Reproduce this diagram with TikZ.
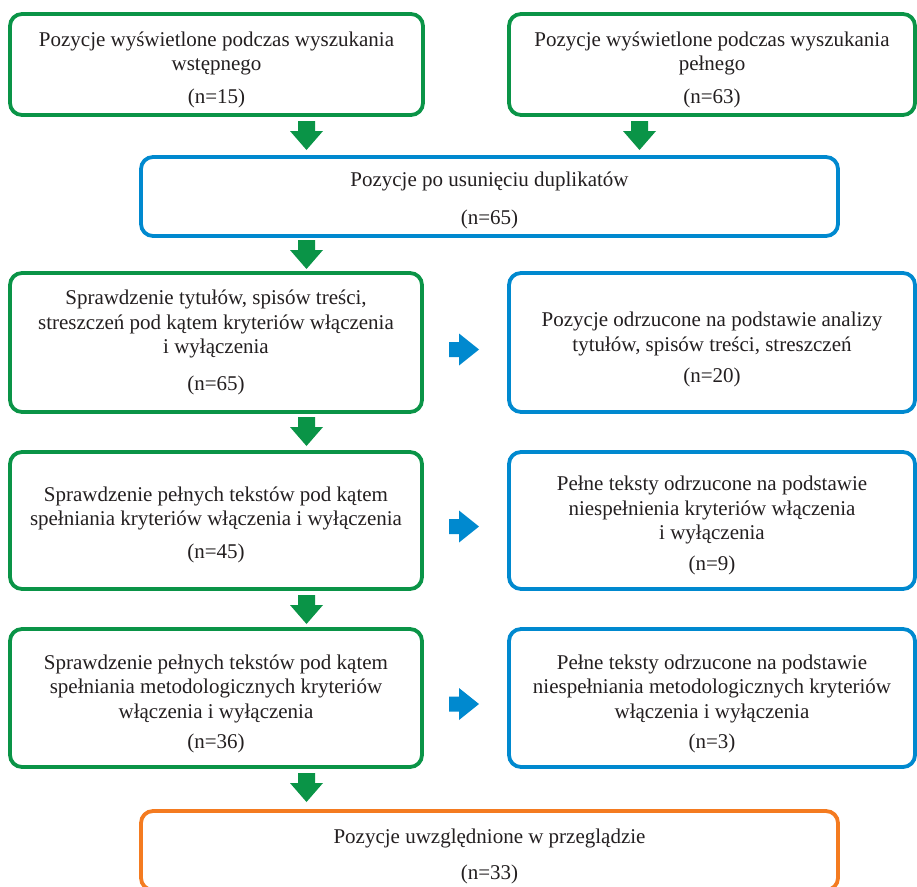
\documentclass[tikz,border=0pt]{standalone}
\usepackage{fontspec}
\setmainfont{Liberation Serif}
\usetikzlibrary{calc}
\definecolor{pgreen}{HTML}{0A9447}
\definecolor{pblue}{HTML}{0089CF}
\definecolor{porange}{HTML}{F47B20}
\definecolor{ptext}{HTML}{231F20}
\begin{document}
\begin{tikzpicture}[x=1pt,y=-1pt,
  box/.style={draw, rounded corners=12pt, line width=3.8pt, inner sep=0pt, outer sep=0pt},
  gbox/.style={box, draw=pgreen, minimum width=412pt},
  bbox/.style={box, draw=pblue, minimum width=406pt},
  widebox/.style={box, minimum width=697pt, minimum height=79pt},
  txt/.style={inner sep=0pt, align=center, text=ptext, font=\fontsize{21}{24.5}\selectfont},
  pics/downarr/.style={code={\fill[pgreen] (0,0) -- (-16.5,-19) -- (-8.5,-19) -- (-8.5,-29) -- (8.5,-29) -- (8.5,-19) -- (16.5,-19) -- cycle;}},
  pics/rightarr/.style={code={\fill[pblue] (0,0) -- (-20,-16) -- (-20,-7.5) -- (-30,-7.5) -- (-30,7.5) -- (-20,7.5) -- (-20,16) -- cycle;}}]
\clip (0,0) rectangle (917,886);
\fill[white] (0,0) rectangle (917,886);

\node[gbox, minimum width=413pt, minimum height=101pt] (b1) at (216.5,64.5) {};
\node[bbox, draw=pgreen, minimum height=101pt] (b2) at (712,64.5) {};
\node[widebox, draw=pblue] (b3) at (489.5,196.5) {};
\node[gbox, minimum height=139pt] (b4) at (216,342.5) {};
\node[bbox, minimum height=139pt] (b5) at (712,342.5) {};
\node[gbox, minimum height=137pt] (b6) at (216,520.5) {};
\node[bbox, minimum height=137pt] (b7) at (712,520.5) {};
\node[gbox, minimum height=138pt] (b8) at (216,698) {};
\node[bbox, minimum height=138pt] (b9) at (712,698) {};
\node[widebox, draw=porange] (b10) at (489.5,850.5) {};

\node[txt] (t1) at ($(b1.center)+(0,5)$)
  {Pozycje wyświetlone podczas wyszukania\\ wstępnego\\[8pt] (n=15)};
\node[txt] (t2) at ($(b2.center)+(0,5)$)
  {Pozycje wyświetlone podczas wyszukania\\ pełnego\\[8pt] (n=63)};
\node[txt] (t3) at ($(b3.center)+(0,4)$)
  {Pozycje po usunięciu duplikatów\\[14pt] (n=65)};
\node[txt] (t4) at ($(b4.center)+(0,0)$)
  {Sprawdzenie tytułów, spisów treści,\\ streszczeń pod kątem kryteriów włączenia\\ i wyłączenia\\[12pt] (n=65)};
\node[txt] (t5) at ($(b5.center)+(0,7)$)
  {Pozycje odrzucone na podstawie analizy\\ tytułów, spisów treści, streszczeń\\[7pt] (n=20)};
\node[txt] (t6) at ($(b6.center)+(0,4)$)
  {Sprawdzenie pełnych tekstów pod kątem\\ spełniania kryteriów włączenia i wyłączenia\\[8pt] (n=45)};
\node[txt] (t7) at ($(b7.center)+(0,5)$)
  {Pełne teksty odrzucone na podstawie\\ niespełnienia kryteriów włączenia\\ i wyłączenia\\[6pt] (n=9)};
\node[txt] (t8) at ($(b8.center)+(0,6)$)
  {Sprawdzenie pełnych tekstów pod kątem\\ spełniania metodologicznych kryteriów\\ włączenia i wyłączenia\\[6pt] (n=36)};
\node[txt] (t9) at ($(b9.center)+(0,6)$)
  {Pełne teksty odrzucone na podstawie\\ niespełniania metodologicznych kryteriów\\ włączenia i wyłączenia\\[6pt] (n=3)};
\node[txt] (t10) at ($(b10.center)+(0,6)$)
  {Pozycje uwzględnione w przeglądzie\\[11pt] (n=33)};

% green down arrows (tip positions relative to target boxes)
\pic at ($(b3.north)+(-183,-7)$) {downarr};
\pic at ($(b3.north)+(150,-7)$) {downarr};
\pic at ($(b4.north)+(90.5,-4)$) {downarr};
\pic at ($(b6.north)+(90.5,-6)$) {downarr};
\pic at ($(b8.north)+(90.5,-5)$) {downarr};
\pic at ($(b10.north)+(-183,-9)$) {downarr};

% blue right arrows
\pic at ($(b5.west)+(-30,7)$) {rightarr};
\pic at ($(b7.west)+(-30,6)$) {rightarr};
\pic at ($(b9.west)+(-30,6)$) {rightarr};
\end{tikzpicture}
\end{document}
